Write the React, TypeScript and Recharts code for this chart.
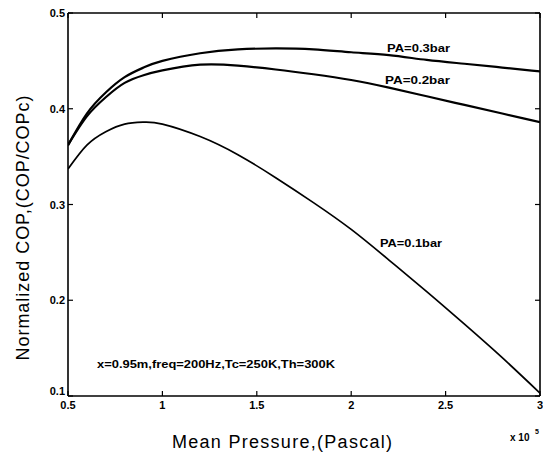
import React from "react";
import { LineChart, Line, XAxis, YAxis } from "recharts";

const pressure = [0.5, 0.6, 0.7, 0.8, 0.9, 1.0, 1.2, 1.4, 1.6, 1.8, 2.0, 2.2, 2.4, 2.6, 2.8, 3.0];
const pa01 = [0.337, 0.362, 0.376, 0.384, 0.386, 0.384, 0.371, 0.352, 0.328, 0.302, 0.274, 0.242, 0.209, 0.175, 0.14, 0.103];
const pa02 = [0.362, 0.392, 0.412, 0.427, 0.435, 0.44, 0.446, 0.445, 0.441, 0.436, 0.43, 0.422, 0.413, 0.404, 0.395, 0.386];
const pa03 = [0.362, 0.395, 0.417, 0.433, 0.443, 0.45, 0.458, 0.462, 0.463, 0.462, 0.459, 0.456, 0.451, 0.447, 0.443, 0.439];

const xTicks = [0.5, 1, 1.5, 2, 2.5, 3];
const yTicks = [0.1, 0.2, 0.3, 0.4, 0.5];
const xTickLabels = ["0.5", "1", "1.5", "2", "2.5", "3"];
const yTickLabels = ["0.1", "0.2", "0.3", "0.4", "0.5"];

const data = pressure.map((p, i) => ({ p, a: pa01[i], b: pa02[i], c: pa03[i] }));

const FONT = "'Liberation Sans', Arial, sans-serif";
const TL = 5;

const LeftTick = (props: any) => {
  const { x, y, payload } = props;
  const i = yTicks.indexOf(payload.value);
  const dy = i === 0 ? -5 : 0;
  return (
    <g>
      <line x1={x} x2={x + TL} y1={y} y2={y} stroke="#000" strokeWidth={1.2} />
      <text x={x - 3} y={y + dy} textAnchor="end" dominantBaseline="central" fontFamily={FONT} fontWeight="bold" fontSize={11} fill="#000">
        {yTickLabels[i] ?? payload.value}
      </text>
    </g>
  );
};

const BottomTick = (props: any) => {
  const { x, y, payload } = props;
  const i = xTicks.indexOf(payload.value);
  return (
    <g>
      <line x1={x} x2={x} y1={y} y2={y - TL} stroke="#000" strokeWidth={1.2} />
      <text x={x} y={y + 13} textAnchor="middle" fontFamily={FONT} fontWeight="bold" fontSize={11} fill="#000">
        {xTickLabels[i] ?? payload.value}
      </text>
    </g>
  );
};

const TopTick = (props: any) => {
  const { x, y } = props;
  return <line x1={x} x2={x} y1={y} y2={y + TL} stroke="#000" strokeWidth={1.2} />;
};

const RightTick = (props: any) => {
  const { x, y } = props;
  return <line x1={x} x2={x - TL} y1={y} y2={y} stroke="#000" strokeWidth={1.2} />;
};

export default function App() {
  return (
    <div style={{ position: "absolute", left: 0, top: 0, width: 543, height: 452, background: "#fff" }}>
      <LineChart width={543} height={452} data={data} margin={{ top: 12, right: 2, bottom: 55, left: 67 }}>
        <XAxis dataKey="p" type="number" domain={[0.5, 3]} ticks={xTicks} height={1} tickSize={0} tickMargin={0}
          tickLine={false} tick={<BottomTick />} axisLine={{ stroke: "#000", strokeWidth: 1.6 }} interval={0} allowDataOverflow />
        <XAxis xAxisId="top" dataKey="p" orientation="top" type="number" domain={[0.5, 3]} ticks={xTicks} height={1} tickSize={0} tickMargin={0}
          tickLine={false} tick={<TopTick />} axisLine={{ stroke: "#000", strokeWidth: 1.6 }} interval={0} allowDataOverflow />
        <YAxis type="number" domain={[0.1, 0.5]} ticks={yTicks} width={1} tickSize={0} tickMargin={0}
          tickLine={false} tick={<LeftTick />} axisLine={{ stroke: "#000", strokeWidth: 1.6 }} interval={0} allowDataOverflow />
        <YAxis yAxisId="r" orientation="right" type="number" domain={[0.1, 0.5]} ticks={yTicks} width={1} tickSize={0} tickMargin={0}
          tickLine={false} tick={<RightTick />} axisLine={{ stroke: "#000", strokeWidth: 1.6 }} interval={0} allowDataOverflow />
        <Line dataKey="c" type="natural" stroke="#000" strokeWidth={2.2} dot={false} isAnimationActive={false} />
        <Line dataKey="b" type="natural" stroke="#000" strokeWidth={2.2} dot={false} isAnimationActive={false} />
        <Line dataKey="a" type="natural" stroke="#000" strokeWidth={1.7} dot={false} isAnimationActive={false} />
        <text x={387} y={52} fontFamily={FONT} fontWeight="bold" fontSize={11} textLength={63} lengthAdjust="spacingAndGlyphs" fill="#000">PA=0.3bar</text>
        <text x={385} y={84} fontFamily={FONT} fontWeight="bold" fontSize={11} textLength={65} lengthAdjust="spacingAndGlyphs" fill="#000">PA=0.2bar</text>
        <text x={380} y={247} fontFamily={FONT} fontWeight="bold" fontSize={11} textLength={62} lengthAdjust="spacingAndGlyphs" fill="#000">PA=0.1bar</text>
        <text x={97} y={368} fontFamily={FONT} fontWeight="bold" fontSize={10} textLength={238} lengthAdjust="spacingAndGlyphs" fill="#000">x=0.95m,freq=200Hz,Tc=250K,Th=300K</text>
        <text x={282} y={448} textAnchor="middle" fontFamily={FONT} fontSize={18} textLength={220} lengthAdjust="spacing" fill="#000">Mean Pressure,(Pascal)</text>
        <text transform="rotate(-90)" x={-228} y={29} textAnchor="middle" fontFamily={FONT} fontSize={18} textLength={265} lengthAdjust="spacing" fill="#000">Normalized COP,(COP/COPc)</text>
        <text x={510} y={441} fontFamily={FONT} fontWeight="bold" fontSize={10} fill="#000">x 10</text>
        <text x={535} y={434} fontFamily={FONT} fontWeight="bold" fontSize={7} fill="#000">5</text>
      </LineChart>
    </div>
  );
}
